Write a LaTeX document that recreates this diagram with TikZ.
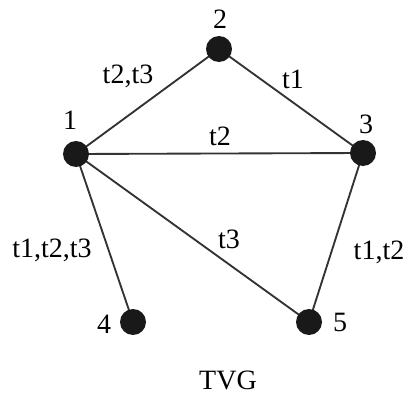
\documentclass[tikz,border=0pt]{standalone}
\usepackage{fontspec}
\setmainfont{Liberation Serif}
\begin{document}
\begin{tikzpicture}[x=0.75pt,y=-0.75pt,
  vertex/.style={circle,fill=black!90,inner sep=0pt,minimum size=19.5pt},
  edge/.style={draw=black!80,line width=1.4pt},
  lbl/.style={anchor=base,inner sep=0pt,font=\fontsize{21}{24}\selectfont}]
\useasboundingbox (0,0) rectangle (404,396);
\coordinate (p1) at (76,154);
\coordinate (p2) at (219,49);
\coordinate (p3) at (363,153);
\coordinate (p4) at (133,322);
\coordinate (p5) at (309,322);
\draw[edge] (p1) -- (p2);
\draw[edge] (p2) -- (p3);
\draw[edge] (p1) -- (p3);
\draw[edge] (p1) -- (p4);
\draw[edge] (p1) -- (p5);
\draw[edge] (p3) -- (p5);
\node[vertex] (n1) at (p1) {};
\node[vertex] (n2) at (p2) {};
\node[vertex] (n3) at (p3) {};
\node[vertex] (n4) at (p4) {};
\node[vertex] (n5) at (p5) {};
\node[lbl] (l1) at (70,129) {1};
\node[lbl] (l2) at (220,28) {2};
\node[lbl] (l3) at (366,133) {3};
\node[lbl] (l4) at (104,333) {4};
\node[lbl] (l5) at (340,331) {5};
\node[lbl] (e12) at (128,83) {t2,t3};
\node[lbl] (e23) at (293,88) {t1};
\node[lbl] (e13) at (220,145) {t2};
\node[lbl] (e15) at (229,248) {t3};
\node[lbl] (e14) at (52,257) {t1,t2,t3};
\node[lbl] (e35) at (379,259) {t1,t2};
\node[lbl] (title) at (228,389) {TVG};
\end{tikzpicture}
\end{document}
